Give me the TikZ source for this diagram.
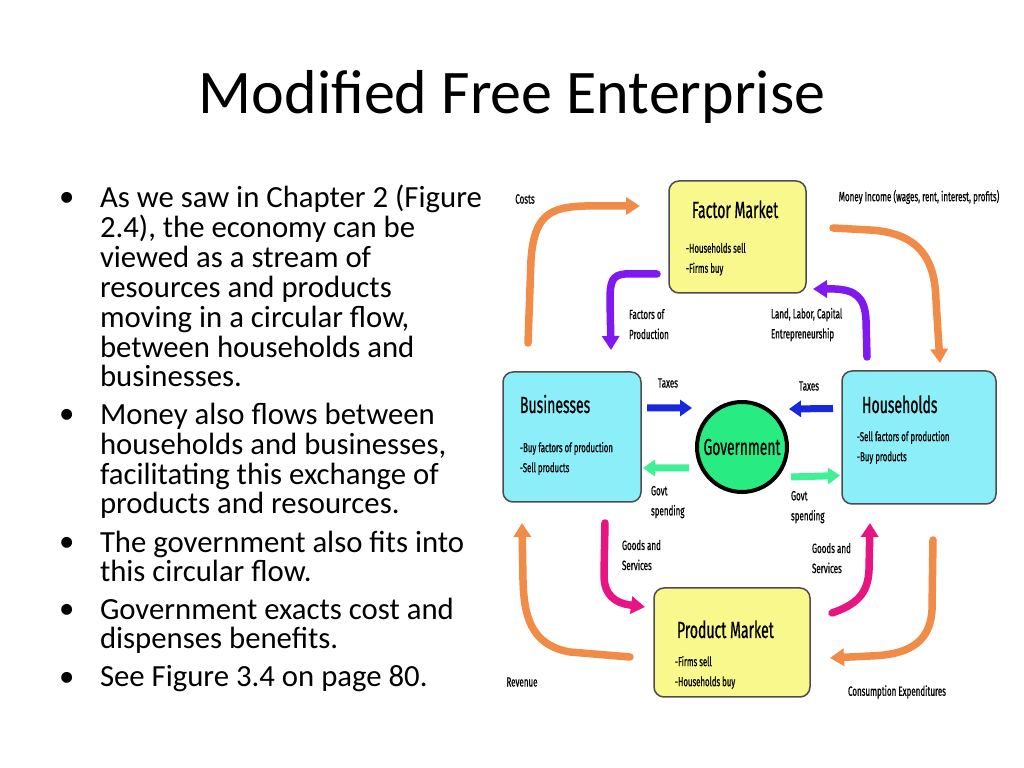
\documentclass[tikz,border=0pt]{standalone}
\usepackage{fontspec}
\setmainfont{Carlito}
\newfontfamily\diafont[FakeStretch=0.6,FakeBold=0.6]{Fira Sans}
\usetikzlibrary{arrows.meta,positioning,calc}

\definecolor{boxyellow}{RGB}{248,248,140}
\definecolor{boxcyan}{RGB}{140,238,248}
\definecolor{govgreen}{RGB}{40,236,130}
\definecolor{flowora}{RGB}{240,140,72}
\definecolor{flowpur}{RGB}{128,24,240}
\definecolor{flowblue}{RGB}{24,40,220}
\definecolor{flowgreen}{RGB}{64,240,150}
\definecolor{flowmag}{RGB}{232,20,130}

\begin{document}
\begin{tikzpicture}[x=0.2mm,y=-0.2mm,
 every node/.style={inner sep=0pt,outer sep=0pt},
 market/.style={draw=black!70,line width=0.3mm,rounded corners=2mm,anchor=north west},
 head/.style={font=\diafont\fontsize{13.3}{13.3}\selectfont,anchor=base west},
 item/.style={font=\diafont\fontsize{7.4}{11.4}\selectfont,align=left,anchor=north west},
 lab/.style={font=\diafont\fontsize{7.6}{11.4}\selectfont,align=left,anchor=north west},
 para/.style={font=\fontsize{17.5}{17}\selectfont,align=left,anchor=base west},
 flow/.style={line width=1.5mm,line cap=round,-{Triangle[length=2.8mm,width=3.4mm]}},
 short/.style={line width=1.4mm,-{Triangle[length=2.4mm,width=3.2mm]}}]

  \useasboundingbox[fill=white] (0,0) rectangle (1024,768);

  \node[font=\fontsize{35.3}{35.3}\selectfont] (title) at (512,97) {Modified Free Enterprise};

  % bullet list on the left (second y is the last line's baseline)
  \foreach \n/\yy/\yl/\txt in {1/207/387/{As we saw in Chapter 2 (Figure\\2.4), the economy can be\\viewed as a stream of\\resources and products\\moving in a circular flow,\\between households and\\businesses.},
    2/424/514/{Money also flows between\\households and businesses,\\facilitating this exchange of\\products and resources.},
    3/552/582/{The government also fits into\\this circular flow.},
    4/619/649/{Government exacts cost and\\dispenses benefits.},
    5/687/687/{See Figure 3.4 on page 80.}}
  {\node[para] (dot\n) at (59,\yy) {•};
   \node[para] (b\n) at (100,\yl) {\txt};
  }

  % the four sectors and the government
  \node[market,fill=boxyellow,minimum width=27.4mm,minimum height=22.4mm] (fm) at (669,181) {};
  \node[market,fill=boxcyan,minimum width=27.6mm,minimum height=26mm] (bus) at (503,372) {};
  \node[market,fill=boxcyan,minimum width=30.8mm,minimum height=26.6mm] (hh) at (842,371) {};
  \node[market,fill=boxyellow,minimum width=31.2mm,minimum height=21.8mm] (pm) at (654,588) {};
  \node[circle,draw,line width=0.8mm,fill=govgreen,minimum size=18mm,
   font=\diafont\fontsize{13.1}{13.1}\selectfont] (gov) at (742,447) {Government};

  \node[head] (fmt) at ($(fm.north west)+(23,37)$) {Factor Market};
  \node[item] (fmi) at ($(fm.north west)+(17,62)$) {-Households sell\\-Firms buy};
  \node[head] (bust) at ($(bus.north west)+(17,41)$) {Businesses};
  \node[item] (busi) at ($(bus.north west)+(17,70)$) {-Buy factors of production\\-Sell products};
  \node[head] (hht) at ($(hh.north west)+(20,42)$) {Households};
  \node[item] (hhi) at ($(hh.north west)+(15,60)$) {-Sell factors of production\\-Buy products};
  \node[head] (pmt) at ($(pm.north west)+(23,50)$) {Product Market};
  \node[item] (pmi) at ($(pm.north west)+(21,68)$) {-Firms sell\\-Households buy};

  % labels
  \node[lab,anchor=center] (costs) at (525,199) {Costs};
  \node[lab,anchor=center] (income) at (919,197) {Money Income (wages, rent, interest, profits)};
  \node[lab] (fop) at (629,309) {Factors of\\Production};
  \node[lab] (llc) at (771,308) {Land, Labor, Capital\\Entrepreneurship};
  \node[lab,anchor=center] (taxl) at (668,383) {Taxes};
  \node[lab,anchor=center] (taxr) at (809,386) {Taxes};
  \node[lab] (gsl) at (651,486) {Govt\\spending};
  \node[lab] (gsr) at (791,491) {Govt\\spending};
  \node[lab] (gasl) at (622,540) {Goods and\\Services};
  \node[lab] (gasr) at (812,543) {Goods and\\Services};
  \node[lab,anchor=center] (rev) at (522,682) {Revenue};
  \node[lab,anchor=center] (cons) at (897,692) {Consumption Expenditures};

  % flow ends
  \coordinate (costs0) at (528,343);  \coordinate (costs1) at (640,206);
  \coordinate (inc0) at (833,228);    \coordinate (inc1) at (940,363);
  \coordinate (fop0) at (657,274);    \coordinate (fop1) at (611,350);
  \coordinate (llc0) at (867,357);    \coordinate (llc1) at (813,289);
  \coordinate (rev0) at (630,657);    \coordinate (rev1) at (522,523);
  \coordinate (cons0) at (933,540);   \coordinate (cons1) at (830,658);
  \coordinate (gsl0) at (605,523);    \coordinate (gsl1) at (645,607);
  \coordinate (gsr0) at (832,613);    \coordinate (gsr1) at (870,523);

  \draw[flow,flowora] (costs0) -- (531,260) .. controls (534,215) and (550,207) .. (585,206) -- (costs1);
  \draw[flow,flowora] (inc0) -- (870,230) .. controls (920,233) and (935,260) .. (936,300) -- (inc1);
  \draw[flow,flowora] (rev0) -- (570,652) .. controls (530,645) and (524,615) .. (523,580) -- (rev1);
  \draw[flow,flowora] (cons0) -- (932,610) .. controls (930,645) and (905,655) .. (870,656) -- (cons1);
  \draw[flow,flowpur] (fop0) -- (625,274) .. controls (612,275) and (610,282) .. (610,300) -- (fop1);
  \draw[flow,flowpur] (llc0) -- (866,320) .. controls (865,297) and (855,290) .. (835,289) -- (llc1);
  \draw[flow,flowmag] (gsl0) -- (604,575) .. controls (604,595) and (615,603) .. (630,605) -- (gsl1);
  \draw[flow,flowmag] (gsr0) .. controls (855,605) and (868,595) .. (869,570) -- (gsr1);

  \draw[short,flowblue] ($(bus.east)+(6,-29)$) -- ($(gov.west)+(-5,-39)$);
  \draw[short,flowblue] ($(hh.west)+(-9,-29)$) -- ($(gov.east)+(2,-38)$);
  \draw[short,flowgreen] ($(gov.west)+(-8,21)$) -- ($(bus.east)+(2,31)$);
  \draw[short,flowgreen] ($(gov.east)+(4,30)$) -- ($(hh.west)+(-2,38)$);
\end{tikzpicture}
\end{document}
